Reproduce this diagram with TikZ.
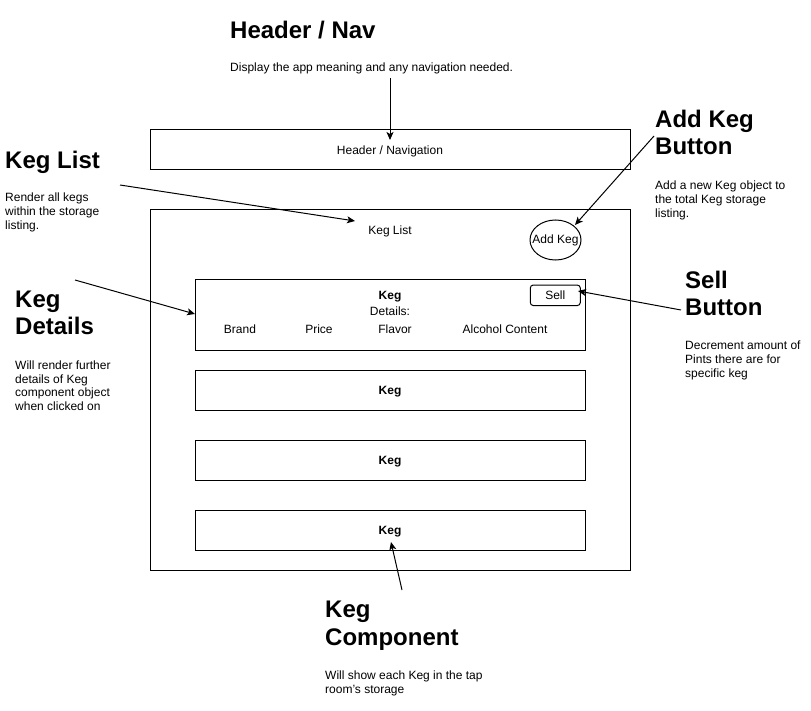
\documentclass[tikz,border=0pt]{standalone}
\usepackage{fontspec}
\setmainfont{Liberation Sans}
\usetikzlibrary{arrows.meta,shapes.geometric}
\begin{document}
\begin{tikzpicture}[x=1pt,y=-1pt,
  box/.style={draw, line width=1pt, inner sep=0pt, font=\fontsize{12}{14}\selectfont},
  head/.style={anchor=north west, inner sep=0pt, align=left, font=\fontsize{24}{27.2}\selectfont\bfseries},
  desc/.style={anchor=north west, inner sep=0pt, align=left, font=\fontsize{12}{13.8}\selectfont},
  lbl/.style={anchor=base, inner sep=0pt, font=\fontsize{12}{14}\selectfont},
  blbl/.style={lbl, font=\fontsize{12}{14}\selectfont\bfseries},
  arr/.style={line width=1pt, -{Stealth[length=8pt,width=7pt,inset=2pt]}}]
\path[use as bounding box] (0,0) rectangle (811,711);
\fill[white] (0,0) rectangle (811,711);

% boxes
\node[box, minimum width=480pt, minimum height=40pt] (header) at (390,150) {};
\node[lbl] (headerlbl) at (390,154.5) {Header / Navigation};
\node[box, minimum width=480pt, minimum height=360pt] (list) at (390,390) {};
\node[lbl] (listlbl) at (390,235) {Keg List};
\node[box, ellipse, minimum width=51pt, minimum height=40pt] (addkeg) at (555.5,240) {\makebox[0pt]{Add Keg}};

\node[box, minimum width=390pt, minimum height=70pt] (detail) at (390,315) {};
\node[blbl] (dkeg) at (390,299) {Keg};
\node[lbl] (dlbl) at (390,315.5) {Details:};
\node[lbl] (brand) at (240,334) {Brand};
\node[lbl] (price) at (319,334) {Price};
\node[lbl] (flavor) at (395,334) {Flavor};
\node[lbl] (alc) at (505,334) {Alcohol Content};
\node[box, rounded corners=3pt, minimum width=50pt, minimum height=20.5pt] (sell) at (555.3,295.3) {};
\node[lbl] (selllbl) at (555.3,299.5) {Sell};

\node[box, minimum width=390pt, minimum height=40pt] (keg2) at (390,390) {};
\node[blbl] (keg2lbl) at (390,394.4) {Keg};
\node[box, minimum width=390pt, minimum height=40pt] (keg3) at (390,460) {};
\node[blbl] (keg3lbl) at (390,464.4) {Keg};
\node[box, minimum width=390pt, minimum height=40pt] (keg4) at (390,530) {};
\node[blbl] (keg4lbl) at (390,534.4) {Keg};

% annotations
\node[head] (hnav) at (230,20.8) {Header / Nav};
\node[desc] (hnavd) at (230,62.4) {Display the app meaning and any navigation needed.};

\node[head] (hlist) at (5,150.8) {Keg List};
\node[desc] (hlistd) at (5,193.1) {Render all kegs\\within the storage\\listing.};

\node[head] (hdet) at (15,290.8) {Keg\\Details};
\node[desc] (hdetd) at (15,360.4) {Will render further\\details of Keg\\component object\\when clicked on};

\node[head] (hadd) at (655,110) {Add Keg\\Button};
\node[desc] (haddd) at (655,180.7) {Add a new Keg object to\\the total Keg storage\\listing.};

\node[head] (hsell) at (685,270.5) {Sell\\Button};
\node[desc] (hselld) at (685,340.7) {Decrement amount of\\Pints there are for\\specific keg};

\node[head] (hcomp) at (325,601.2) {Keg\\Component};
\node[desc] (hcompd) at (325,670.7) {Will show each Keg in the tap\\room's storage};

% connectors
\coordinate (a1s) at (390,78);   \coordinate (a1e) at (390,140);
\coordinate (a2s) at (120,185);  \coordinate (a2e) at (355,221);
\coordinate (a3s) at (75,280);   \coordinate (a3e) at (195,314);
\coordinate (a4s) at (654,136);  \coordinate (a4e) at (575,225);
\coordinate (a5s) at (681,310);  \coordinate (a5e) at (578,291);
\coordinate (a6s) at (402,590);  \coordinate (a6e) at (391,542);
\draw[arr] (a1s) -- (a1e);
\draw[arr] (a2s) -- (a2e);
\draw[arr] (a3s) -- (a3e);
\draw[arr] (a4s) -- (a4e);
\draw[arr] (a5s) -- (a5e);
\draw[arr] (a6s) -- (a6e);
\end{tikzpicture}
\end{document}
